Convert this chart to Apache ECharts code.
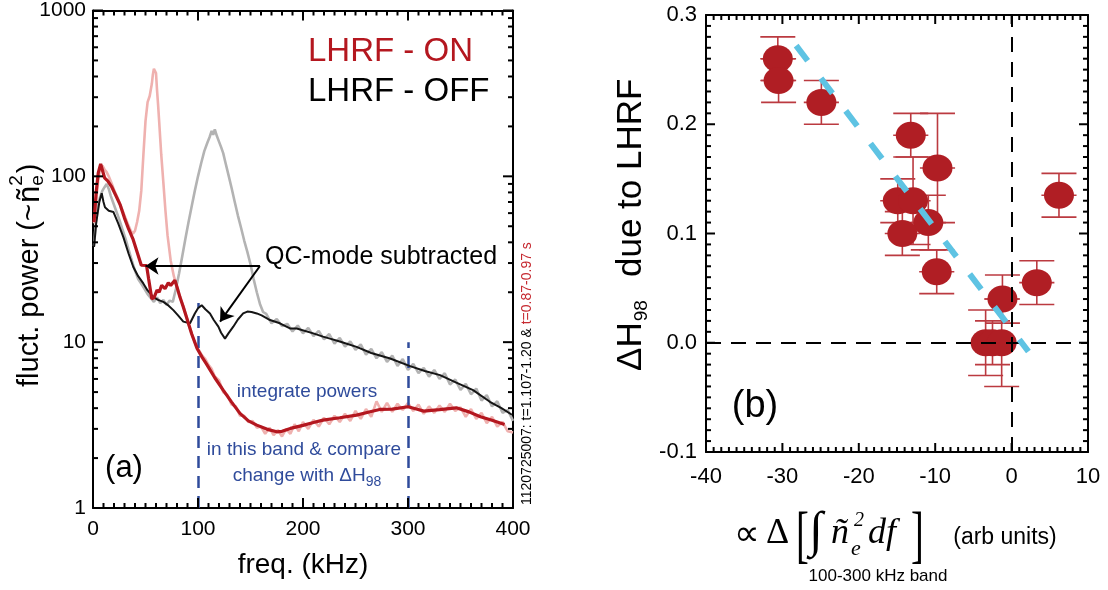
<!DOCTYPE html>
<html>
<head>
<meta charset="utf-8">
<script src="https://cdn.jsdelivr.net/npm/echarts@6/dist/echarts.min.js"></script>
<style>
  html, body { margin: 0; padding: 0; background: #fff; }
  #chart { width: 1108px; height: 590px; }
</style>
</head>
<body>
<div id="chart"></div>
<script>
// ---------- Panel (a): density fluctuation power spectra ----------
// raw LHRF-ON spectrum (with QC mode)
const onRawFreq = [1,3,5,7,9,11,13,15,18,21,24,27,30,33,36,38,40,42,44,46,48,50,52,54,56,57,58,59,60,61,62,63,64,65,67,69,71,74,77,80,83,86,89,92,95,98,101,104,107,110,113,116,120,124,128,132,136,140,144,148,152,156,160,164,168,172,176,180,184,188,192,196,200,205,210,215,220,225,230,235,240,245,250,255,260,265,270,275,280,285,290,295,300,305,310,315,320,325,330,335,340,345,350,355,360,365,370,375,380,385,390,395,400];
const onRawPow  = [52,72,95,112,116,110,106,100,90,80,73,65,58,52,47,45,47,53,62,82,135,215,280,305,360,410,445,450,420,330,270,215,170,135,92,62,44,31,25,21.5,18.5,16.5,14.2,12.3,10.8,9.6,8.9,8.3,7.9,7.3,6.9,6.2,5.9,5.0,4.8,4.2,4.1,3.6,3.6,3.3,3.35,3.05,3.1,2.8,3.05,2.75,2.95,2.7,3.0,2.8,3.2,2.9,3.3,3.0,3.4,3.1,3.5,3.2,3.6,3.3,3.7,3.35,3.85,3.45,3.95,3.55,4.4,3.8,4.3,3.8,4.25,3.9,4.3,3.85,4.2,3.7,4.1,3.75,4.15,3.8,4.25,3.85,4.05,3.55,3.95,3.45,3.75,3.25,3.55,3.1,3.3,2.9,2.85];

// raw LHRF-OFF spectrum (with QC mode)
const offRawFreq = [1,3,5,7,9,11,13,15,17,19,22,25,28,31,34,37,40,43,46,49,52,55,58,61,64,67,70,73,76,79,82,85,88,91,94,97,100,103,106,109,111,113,114.5,116,118,120,122,124,126,129,132,135,138,141,144,147,150,153,156,159,162,165,170,175,180,185,190,195,200,205,210,215,220,225,230,235,240,245,250,255,260,265,270,275,280,285,290,295,300,305,310,315,320,325,330,335,340,345,350,355,360,365,370,375,380,385,390,395,400];
const offRawPow  = [38,55,68,76,82,86,90,84,76,70,62,55,48,42,36,31,27,24,22.5,21,19.5,18.5,17.5,18.6,17.2,18,16.8,17.8,17.5,21,26,33,42,53,66,82,100,120,142,160,172,188,178,192,175,162,150,138,122,102,85,70,58,49,41,35,29.5,24,20,17,15.2,14.8,13.0,13.8,12.5,12.9,11.6,12.6,11.3,12.2,10.9,11.7,10.4,11.2,9.8,10.6,9.4,10.1,9.0,9.7,8.4,9.1,8.0,8.7,7.6,8.3,7.2,7.9,6.8,7.4,6.5,7.0,6.2,6.8,6.0,6.5,5.55,5.95,5.15,5.6,4.85,5.25,4.45,4.8,4.1,4.4,3.75,3.9,3.35];

// LHRF-ON, QC mode subtracted
const onFreq = [1,3,5,7.3,9,11,14,18,22,26,30,34,38,42,46,51,53,56,58,61,63,65.4,68.6,71.7,74,78,80,82.8,86,89,94,99,104,108,116,124,132,140,148,156,166,175,180,188,200,210,219,235,251,262,273,285,300,308,315,330,346,358,369,380,392];
const onPow  = [53,80,105,119,116,98,94,86,76,67,56,48,42,35,29.1,29,24,18.3,18.5,20.6,20,22,21,22.8,22,23.6,21.5,18.7,16.3,14.2,11.2,9.2,8.1,7.4,6.1,5.14,4.35,3.72,3.35,3.16,2.98,2.88,2.9,3.02,3.15,3.28,3.39,3.5,3.63,3.78,3.93,3.95,4.08,3.95,3.84,3.92,4.02,3.8,3.55,3.38,3.19];

// LHRF-OFF, QC mode subtracted
const offFreq = [1,3,6,8.3,10,11.4,15,19.4,24,28.9,34,38.4,43,47.9,52,57.4,62,67,72,76.5,81,86,92.4,97,100,103.5,107,111.4,115,119.4,122,125.7,129,133.6,138,143,147,151,156,160.6,168.6,178,187.6,194,209.8,219,225.7,235,251,265,283,302,316,330.5,346,362,378,389,399];
const offPow  = [37.5,52,70,79,70,65,62,61,52,43,34,28.4,25,22.6,20.5,18.7,18,17.5,16.6,15.6,14.5,13.3,13,14.9,16,16.7,15.8,14.9,13.6,12.4,11.4,10.5,11.3,12.4,13.7,14.9,15.3,15.2,14.9,14.5,13.6,13,12.1,12.1,11.3,10.8,10.5,10.1,9.37,8.6,7.97,7.17,6.7,6.33,5.7,5.14,4.37,4.0,3.65];

// integration band (kHz) and the height of its dashed markers
const bandEdges = [100, 300];
const bandTops  = [17.2, 10];

// "QC-mode subtracted" arrows: common tail, two heads
const arrowTail  = [159, 28.8];
const arrowHeads = [[50, 28.8], [121, 13.3]];

// axis ranges and tick spacing
const freqRange = [0, 400], freqStep = 100, freqMinorStep = 10;
const powerDecades = [1, 10, 100, 1000];
const dPowerRange = [-40, 10], dPowerStep = 10, dPowerMinorStep = 1;
const dHRange = [-0.1, 0.3], dHStep = 0.1, dHMinorStep = 0.01;

// ---------- Panel (b): confinement change vs. fluctuation change ----------
const dPower    = [-30.6, -30.5, -24.9, -13.2, -9.7, -14.9, -12.9, -10.9, -14.3, -9.8, -1.2, 3.3, 6.2, -3.4, -2.5, -1.3];
const dH98      = [0.260, 0.240, 0.220, 0.190, 0.160, 0.130, 0.130, 0.110, 0.100, 0.065, 0.040, 0.055, 0.135, 0.000, 0.000, 0.000];
const dH98Err   = [0.020, 0.020, 0.020, 0.020, 0.050, 0.020, 0.040, 0.025, 0.020, 0.020, 0.022, 0.020, 0.020, 0.030, 0.020, 0.040];
const dPowerErr = [2.3, 2.3, 2.3, 2.3, 2.3, 2.3, 2.3, 2.3, 2.3, 2.3, 2.3, 2.3, 2.3, 2.3, 2.3, 2.3];
const trendLine = [[-28.2, 0.272], [2.2, -0.008]];

// ---------- styling ----------
const SANS = '"Liberation Sans", Arial, Helvetica, sans-serif';
const SERIF = '"Liberation Serif", "Times New Roman", serif';
const RED = '#b4171f';
const PINK = '#efb1af';
const GRAY = '#b3b3b3';
const BLUE = '#2f4b9b';
const CYAN = '#5ec3e3';
const DOT_RED = '#b01e24';
const BAR_RED = '#bb3a40';

const measureCtx = document.createElement('canvas').getContext('2d');
function textWidth(str, font) { measureCtx.font = font; return measureCtx.measureText(str).width; }

const pairs = (xs, ys) => xs.map((x, i) => [x, ys[i]]);
const round = v => Math.round(v * 1e6) / 1e6;

// tick lists: [value, major flag]
function linearTicks(range, step, minorStep) {
  const out = [];
  const n = Math.round((range[1] - range[0]) / minorStep);
  const per = Math.round(step / minorStep);
  for (let i = 0; i <= n; i++) out.push([round(range[0] + i * minorStep), i % per === 0]);
  return out;
}
function logTicks(decades) {
  const out = [];
  decades.forEach((d, i) => {
    out.push([d, true]);
    if (i < decades.length - 1) for (let k = 2; k <= 9; k++) out.push([k * d, false]);
  });
  return out;
}

function frameAxis(extra) {
  return Object.assign({
    axisLine: { show: true, onZero: false, lineStyle: { color: '#000', width: 2 } },
    axisTick: { show: false },
    minorTick: { show: false },
    splitLine: { show: false },
    minorSplitLine: { show: false },
    axisLabel: { show: false }
  }, extra);
}

const chart = echarts.init(document.getElementById('chart'), null, { renderer: 'canvas' });

// ---------- text graphics ----------
const graphics = [];

// panel (a) y-axis title: fluct. power (~ñ_e^2)
(function () {
  const f1 = '29px ' + SANS;
  const p1 = 'fluct. power (~';
  const w1 = textWidth(p1, f1);
  const fN = '31px ' + SANS;
  const wN = textWidth('ñ', fN);
  const fS = '19px ' + SANS;
  const wS = Math.max(textWidth('e', fS), textWidth('2', fS));
  graphics.push({
    type: 'group', x: 30, y: 387, rotation: Math.PI / 2,
    children: [
      { type: 'text', x: 0, y: 0, style: { text: p1, font: f1, fill: '#000', align: 'left', verticalAlign: 'middle' } },
      { type: 'text', x: w1 + 1, y: 0, style: { text: 'ñ', font: fN, fill: '#000', align: 'left', verticalAlign: 'middle' } },
      { type: 'text', x: w1 + wN + 1, y: 8, style: { text: 'e', font: fS, fill: '#000', align: 'left', verticalAlign: 'middle' } },
      { type: 'text', x: w1 + wN + 1, y: -13, style: { text: '2', font: fS, fill: '#000', align: 'left', verticalAlign: 'middle' } },
      { type: 'text', x: w1 + wN + wS + 3, y: 0, style: { text: ')', font: f1, fill: '#000', align: 'left', verticalAlign: 'middle' } }
    ]
  });
})();

graphics.push({ type: 'text', x: 303, y: 565, style: { text: 'freq. (kHz)', font: '28px ' + SANS, fill: '#000', align: 'center', verticalAlign: 'middle' } });
graphics.push({ type: 'text', x: 308, y: 52, style: { text: 'LHRF - ON', font: '33px ' + SANS, fill: RED, align: 'left', verticalAlign: 'middle' } });
graphics.push({ type: 'text', x: 308, y: 92, style: { text: 'LHRF - OFF', font: '33px ' + SANS, fill: '#000', align: 'left', verticalAlign: 'middle' } });
graphics.push({ type: 'text', x: 265, y: 257, style: { text: 'QC-mode subtracted', font: '25px ' + SANS, fill: '#000', align: 'left', verticalAlign: 'middle' } });
graphics.push({ type: 'text', x: 307, y: 392, style: { text: 'integrate powers', font: '19px ' + SANS, fill: BLUE, align: 'center', verticalAlign: 'middle' } });
graphics.push({ type: 'text', x: 304, y: 450, style: { text: 'in this band & compare', font: '19px ' + SANS, fill: BLUE, align: 'center', verticalAlign: 'middle' } });
(function () {
  const fM = '19px ' + SANS, fS = '14px ' + SANS;
  const m = 'change with ΔH', s = '98';
  const wm = textWidth(m, fM), ws = textWidth(s, fS);
  const x0 = 307 - (wm + ws) / 2;
  graphics.push({ type: 'text', x: x0, y: 476, style: { text: m, font: fM, fill: BLUE, align: 'left', verticalAlign: 'middle' } });
  graphics.push({ type: 'text', x: x0 + wm, y: 482, style: { text: s, font: fS, fill: BLUE, align: 'left', verticalAlign: 'middle' } });
})();
graphics.push({ type: 'text', x: 124, y: 468, style: { text: '(a)', font: '31px ' + SANS, fill: '#000', align: 'center', verticalAlign: 'middle' } });
graphics.push({
  type: 'text', x: 527, y: 505, rotation: Math.PI / 2,
  style: {
    text: '{k|1120725007: t=1.107-1.20 & }{r|t=0.87-0.97 s}',
    align: 'left', verticalAlign: 'middle',
    rich: {
      k: { font: '14px ' + SANS, fill: '#000' },
      r: { font: '14px ' + SANS, fill: '#c62a31' }
    }
  }
});

// panel (b) y-axis title: ΔH_98 due to LHRF
(function () {
  const fM = '35px ' + SANS, fS = '19px ' + SANS;
  const w1 = textWidth('ΔH', fM);
  graphics.push({
    type: 'group', x: 631, y: 371, rotation: Math.PI / 2,
    children: [
      { type: 'text', x: 0, y: 0, style: { text: 'ΔH', font: fM, fill: '#000', align: 'left', verticalAlign: 'middle' } },
      { type: 'text', x: w1 + 1, y: 11, style: { text: '98', font: fS, fill: '#000', align: 'left', verticalAlign: 'middle' } },
      { type: 'text', x: 94, y: 0, style: { text: 'due to LHRF', font: fM, fill: '#000', align: 'left', verticalAlign: 'middle' } }
    ]
  });
})();

// panel (b) x-axis title: ∝ Δ[∫ ñ_e^2 df]  (arb units)
graphics.push({ type: 'text', x: 734, y: 536, style: { text: '∝', font: '36px ' + SERIF, fill: '#000', align: 'left', verticalAlign: 'middle' } });
graphics.push({ type: 'text', x: 766, y: 534, style: { text: 'Δ', font: '36px ' + SERIF, fill: '#000', align: 'left', verticalAlign: 'middle' } });
graphics.push({ type: 'text', x: 796, y: 538, scaleX: 0.6, style: { text: '[', font: '64px ' + SERIF, fill: '#000', align: 'left', verticalAlign: 'middle' } });
graphics.push({ type: 'text', x: 809, y: 533, style: { text: '∫', font: 'italic 50px ' + SERIF, fill: '#000', align: 'left', verticalAlign: 'middle' } });
graphics.push({ type: 'text', x: 831, y: 534, style: { text: 'ñ', font: 'italic 36px ' + SERIF, fill: '#000', align: 'left', verticalAlign: 'middle' } });
graphics.push({ type: 'text', x: 851, y: 549, style: { text: 'e', font: 'italic 22px ' + SERIF, fill: '#000', align: 'left', verticalAlign: 'middle' } });
graphics.push({ type: 'text', x: 854, y: 521, style: { text: '2', font: 'italic 20px ' + SERIF, fill: '#000', align: 'left', verticalAlign: 'middle' } });
graphics.push({ type: 'text', x: 868, y: 534, style: { text: 'df', font: 'italic 36px ' + SERIF, fill: '#000', align: 'left', verticalAlign: 'middle' } });
graphics.push({ type: 'text', x: 911, y: 538, scaleX: 0.6, style: { text: ']', font: '64px ' + SERIF, fill: '#000', align: 'left', verticalAlign: 'middle' } });
graphics.push({ type: 'text', x: 1005, y: 538, style: { text: '(arb units)', font: '23px ' + SANS, fill: '#000', align: 'center', verticalAlign: 'middle' } });
graphics.push({ type: 'text', x: 878, y: 576, style: { text: '100-300 kHz band', font: '17px ' + SANS, fill: '#000', align: 'center', verticalAlign: 'middle' } });
graphics.push({ type: 'text', x: 755, y: 407, style: { text: '(b)', font: '38px ' + SANS, fill: '#000', align: 'center', verticalAlign: 'middle' } });

// ---------- option ----------
const option = {
  backgroundColor: '#fff',
  animation: false,
  grid: [
    { left: 93, top: 10, width: 420, height: 498 },
    { left: 706, top: 15, width: 382, height: 437 }
  ],
  xAxis: [
    frameAxis({
      gridIndex: 0, type: 'value', position: 'bottom', min: freqRange[0], max: freqRange[1], interval: freqStep,
      axisLabel: { show: true, margin: 11, fontSize: 21, fontFamily: SANS, color: '#000' }
    }),
    frameAxis({ gridIndex: 0, type: 'value', position: 'top', min: freqRange[0], max: freqRange[1], interval: freqStep }),
    frameAxis({
      gridIndex: 1, type: 'value', position: 'bottom', min: dPowerRange[0], max: dPowerRange[1], interval: dPowerStep,
      axisLabel: { show: true, margin: 14, fontSize: 22, fontFamily: SANS, color: '#000' }
    }),
    frameAxis({ gridIndex: 1, type: 'value', position: 'top', min: dPowerRange[0], max: dPowerRange[1], interval: dPowerStep })
  ],
  yAxis: [
    frameAxis({
      gridIndex: 0, type: 'log', logBase: 10, position: 'left',
      min: powerDecades[0], max: powerDecades[powerDecades.length - 1],
      axisLabel: { show: true, margin: 7, fontSize: 21, fontFamily: SANS, color: '#000', formatter: v => String(v) }
    }),
    frameAxis({
      gridIndex: 0, type: 'log', logBase: 10, position: 'right',
      min: powerDecades[0], max: powerDecades[powerDecades.length - 1]
    }),
    frameAxis({
      gridIndex: 1, type: 'value', position: 'left', min: dHRange[0], max: dHRange[1], interval: dHStep,
      axisLabel: { show: true, margin: 9, fontSize: 22, fontFamily: SANS, color: '#000', formatter: v => v.toFixed(1) }
    }),
    frameAxis({ gridIndex: 1, type: 'value', position: 'right', min: dHRange[0], max: dHRange[1], interval: dHStep })
  ],
  graphic: { elements: graphics },
  series: [
    {
      name: 'LHRF-ON raw', type: 'line', xAxisIndex: 0, yAxisIndex: 0, data: pairs(onRawFreq, onRawPow),
      showSymbol: false, symbol: 'none', lineStyle: { color: PINK, width: 2.6 }, z: 2, silent: true
    },
    {
      name: 'LHRF-OFF raw', type: 'line', xAxisIndex: 0, yAxisIndex: 0, data: pairs(offRawFreq, offRawPow),
      showSymbol: false, symbol: 'none', lineStyle: { color: GRAY, width: 2.6 }, z: 2, silent: true
    },
    {
      name: 'band', type: 'lines', coordinateSystem: 'cartesian2d', xAxisIndex: 0, yAxisIndex: 0, silent: true, z: 3,
      data: bandEdges.map((f, i) => ({ coords: [[f, powerDecades[0]], [f, bandTops[i]]] })),
      lineStyle: { color: BLUE, width: 2.5, type: [12, 8], opacity: 1 }
    },
    {
      name: 'LHRF-OFF', type: 'line', xAxisIndex: 0, yAxisIndex: 0, data: pairs(offFreq, offPow),
      showSymbol: false, symbol: 'none', lineStyle: { color: '#151515', width: 2 }, z: 4, silent: true
    },
    {
      name: 'LHRF-ON', type: 'line', xAxisIndex: 0, yAxisIndex: 0, data: pairs(onFreq, onPow),
      showSymbol: false, symbol: 'none', lineStyle: { color: RED, width: 3.2 }, z: 5, silent: true
    },
    {
      name: 'arrows', type: 'lines', coordinateSystem: 'cartesian2d', xAxisIndex: 0, yAxisIndex: 0, silent: true, z: 6,
      symbol: ['none', 'arrow'], symbolSize: 13,
      data: arrowHeads.map(h => ({ coords: [arrowTail, h] })),
      lineStyle: { color: '#000', width: 2, opacity: 1 }
    },
    // panel (b): error bars
    {
      name: 'errors', type: 'custom', xAxisIndex: 2, yAxisIndex: 2, silent: true, z: 2,
      data: dPower.map((x, i) => [x, dH98[i], dH98Err[i], dPowerErr[i]]),
      renderItem(params, api) {
        const x = api.value(0), y = api.value(1), ey = api.value(2), ex = api.value(3);
        const c = api.coord([x, y]);
        const t = api.coord([x, y + ey]);
        const b = api.coord([x, y - ey]);
        const l = api.coord([x - ex, y]);
        const r = api.coord([x + ex, y]);
        const cap = 17.5;
        const st = { stroke: BAR_RED, lineWidth: 1.6 };
        return {
          type: 'group', children: [
            { type: 'line', shape: { x1: c[0], y1: t[1], x2: c[0], y2: b[1] }, style: st },
            { type: 'line', shape: { x1: c[0] - cap, y1: t[1], x2: c[0] + cap, y2: t[1] }, style: st },
            { type: 'line', shape: { x1: c[0] - cap, y1: b[1], x2: c[0] + cap, y2: b[1] }, style: st },
            { type: 'line', shape: { x1: l[0], y1: c[1], x2: r[0], y2: c[1] }, style: st }
          ]
        };
      }
    },
    {
      name: 'shots', type: 'scatter', xAxisIndex: 2, yAxisIndex: 2, silent: true, z: 3,
      data: pairs(dPower, dH98), symbol: 'circle', symbolSize: [30, 27],
      itemStyle: { color: DOT_RED, opacity: 1 }
    },
    {
      name: 'trend', type: 'line', xAxisIndex: 2, yAxisIndex: 2, silent: true, z: 5,
      data: trendLine, showSymbol: false, symbol: 'none',
      lineStyle: { color: CYAN, width: 6, type: [19, 22], cap: 'butt' },
      markLine: {
        silent: true, symbol: ['none', 'none'], label: { show: false },
        lineStyle: { color: '#000', width: 2, type: [15, 10] },
        data: [{ yAxis: 0 }, { xAxis: 0 }]
      }
    }
  ]
};

chart.setOption(option);

// inward ticks on all four sides of each frame, placed through the axis scales
function frameTickLines(xIdx, yIdx, xTicks, yTicks, xEnds, yEnds, majorLen, minorLen) {
  const px = v => chart.convertToPixel({ xAxisIndex: xIdx }, v);
  const py = v => chart.convertToPixel({ yAxisIndex: yIdx }, v);
  const left = px(xEnds[0]), right = px(xEnds[1]);
  const bottom = py(yEnds[0]), top = py(yEnds[1]);
  const els = [];
  const seg = (x1, y1, x2, y2) => els.push({
    type: 'line', silent: true, z: 50,
    shape: { x1: x1, y1: y1, x2: x2, y2: y2 },
    style: { stroke: '#000', lineWidth: 2 }
  });
  xTicks.forEach(([v, major]) => {
    const x = px(v), len = major ? majorLen : minorLen;
    seg(x, bottom, x, bottom - len);
    seg(x, top, x, top + len);
  });
  yTicks.forEach(([v, major]) => {
    const y = py(v), len = major ? majorLen : minorLen;
    seg(left, y, left + len, y);
    seg(right - len, y, right, y);
  });
  return els;
}

const tickEls = [].concat(
  frameTickLines(0, 0, linearTicks(freqRange, freqStep, freqMinorStep), logTicks(powerDecades),
    freqRange, [powerDecades[0], powerDecades[powerDecades.length - 1]], 10, 5),
  frameTickLines(2, 2, linearTicks(dPowerRange, dPowerStep, dPowerMinorStep), linearTicks(dHRange, dHStep, dHMinorStep),
    dPowerRange, dHRange, 9, 5)
);

chart.setOption({ graphic: { elements: graphics.concat(tickEls) } });
</script>
</body>
</html>
